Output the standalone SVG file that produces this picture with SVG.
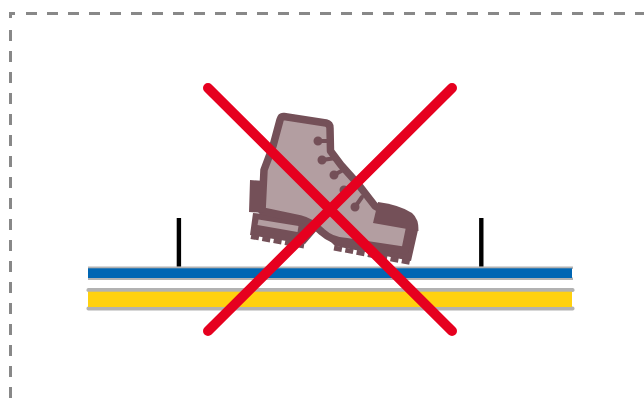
<svg xmlns="http://www.w3.org/2000/svg" width="644" height="405" viewBox="0 0 644 405">
<style>
.g{fill:#b2b2b2}
.b{fill:#745058}
.l{fill:#b39ea1}
.x{stroke:#e6001f;stroke-width:10;stroke-linecap:round;fill:none}
.t{stroke:#000;stroke-width:4.4;fill:none}
.d{stroke:#888;stroke-width:3;fill:none;stroke-dasharray:11 10}
.c{stroke:#745058;stroke-width:5;fill:none;stroke-dasharray:8 3.500}
</style>
<rect width="644" height="405" fill="#fff"/>
<g id="frame">
<path class="d" d="M26 13.500H644"/>
<path class="d" d="M10.500 30V405"/>
<path d="M10.500 18V13.500H15" fill="none" stroke="#888" stroke-width="3"/>
</g>
<g id="layers">
<rect class="g" x="88" y="266.500" width="485" height="2.500"/>
<rect class="g" x="88" y="277.500" width="485" height="2.500"/>
<rect x="88" y="268.300" width="484" height="9.700" fill="#0066b3"/>
<rect class="g" x="86.500" y="288" width="488" height="4" rx="1.800"/>
<rect class="g" x="86.500" y="306.500" width="488" height="4" rx="1.800"/>
<rect x="88" y="291.700" width="484" height="15.300" fill="#ffd10f"/>
</g>
<g id="posts">
<path class="t" d="M178.900 218V266.500"/>
<path class="t" d="M481.300 218V266.500"/>
</g>
<g id="boot">
<path class="b" d="M253 213L250 235L305 244L318 229L335 246L411 261L418 230L370 222L300 218Z"/>
<path class="c" d="M251 236.500L304 246"/>
<path class="c" d="M334 248L413 263"/>
<path class="l" stroke="#745058" stroke-width="7.500" stroke-linejoin="round" d="M284 116.500Q281 116 280 120L273 146L264 170L262 211L300 219Q312 222 322 232Q332 241 345 241.500L405 250.500L410 226L375 206L358 184L341 165L330.500 151L330 128Q330 124 326 123Z"/>
<path class="b" d="M378 202Q400 205 412 213Q419 219 418.500 231L373 223Z"/>
<path class="b" d="M250 180L265 181V213L249 212Z"/>
<path class="l" d="M258.500 219.500L298.500 226L297.500 232L257.500 225Z"/>
<g stroke="#745058" stroke-width="4" stroke-linecap="round" fill="#745058">
<path d="M318 141H329"/><circle cx="318" cy="141" r="2.500"/>
<path d="M322 160L336 158"/><circle cx="322" cy="160" r="2.500"/>
<path d="M334 175L345 169"/><circle cx="334" cy="175" r="2.500"/>
<path d="M344 190L354 184"/><circle cx="344" cy="190" r="2.500"/>
<path d="M355 207L362 197"/><circle cx="355" cy="207" r="2.500"/>
</g>
</g>
<g id="cross">
<path class="x" d="M208 88L452 331"/>
<path class="x" d="M452 88L208 331"/>
</g>
</svg>
